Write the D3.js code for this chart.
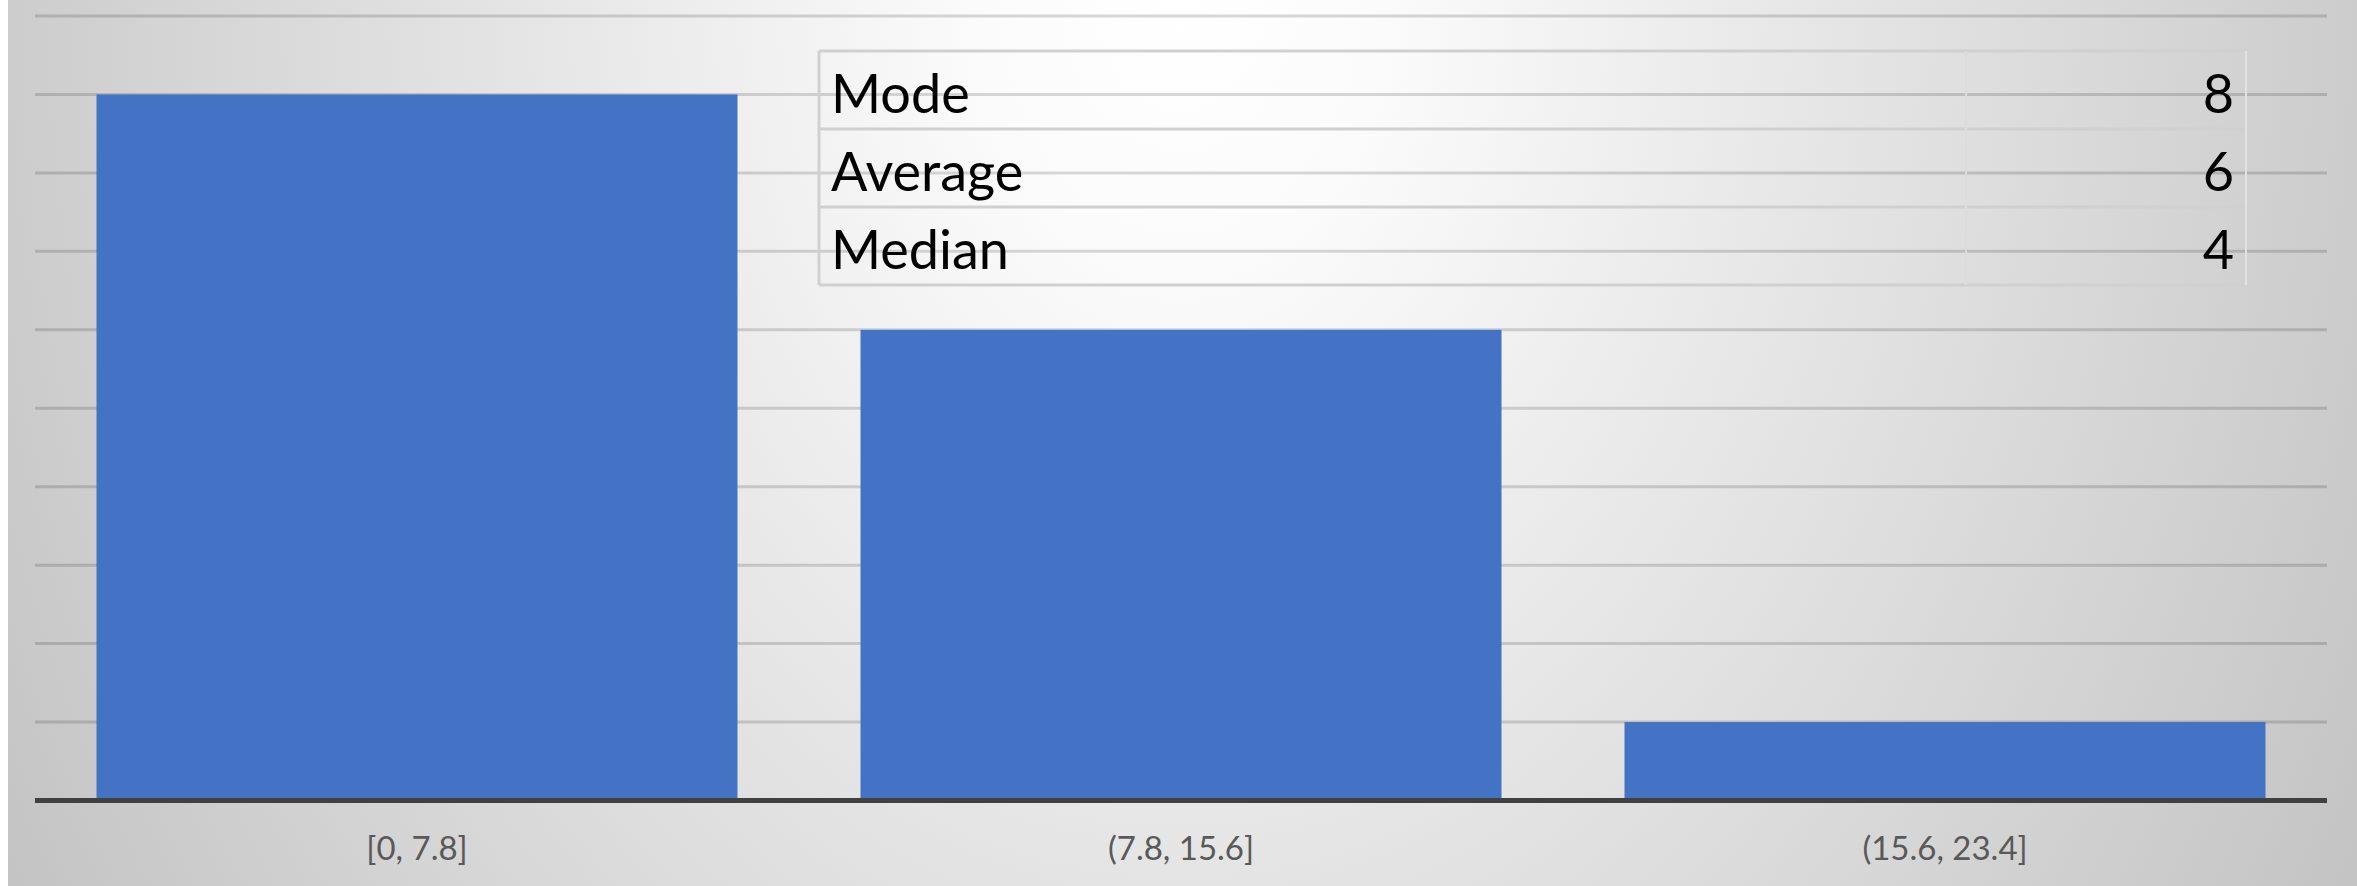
<!DOCTYPE html>
<html>
<head>
<meta charset="utf-8">
<script src="https://cdn.jsdelivr.net/npm/d3@7"></script>
<style>
  html, body { margin: 0; padding: 0; background: #ffffff; overflow: hidden; }
  svg { display: block; }
</style>
</head>
<body>
<svg id="chart" width="2357" height="886"></svg>
<script>
// ---- data ----
const categories = ["[0, 7.8]", "(7.8, 15.6]", "(15.6, 23.4]"];
const counts = [9, 6, 1];
const yMax = 10;
const statLabels = ["Mode", "Average", "Median"];
const statValues = [8, 6, 4];

// ---- layout ----
const W = 2357, H = 886;
const plot = { left: 35, right: 2327, top: 16, bottom: 800.5 };
const font = "Lato, 'Liberation Sans', sans-serif";

const svg = d3.select("#chart");
const defs = svg.append("defs");
const grad = defs.append("radialGradient")
  .attr("id", "bg")
  .attr("gradientUnits", "userSpaceOnUse")
  .attr("cx", 1180).attr("cy", 0).attr("r", 1350)
  .attr("gradientTransform", "translate(1180,0) scale(1,1.3) translate(-1180,0)");
grad.append("stop").attr("offset", 0).attr("stop-color", "#ffffff");
grad.append("stop").attr("offset", 0.15).attr("stop-color", "#fbfbfb");
grad.append("stop").attr("offset", 1).attr("stop-color", "#c4c4c4");

svg.append("rect").attr("x", 8).attr("y", 0).attr("width", W - 8).attr("height", H)
  .attr("fill", "url(#bg)");

const x = d3.scaleBand().domain(categories).range([plot.left, plot.right])
  .paddingInner(0.161).paddingOuter(0.0805);
const y = d3.scaleLinear().domain([0, yMax]).range([plot.bottom, plot.top]);

// gridlines
const gridTicks = y.ticks(10).filter(t => t > 0);
svg.append("g").selectAll("line").data(gridTicks).join("line")
  .attr("x1", plot.left).attr("x2", plot.right)
  .attr("y1", d => y(d)).attr("y2", d => y(d))
  .attr("stroke", "#000").attr("stroke-opacity", 0.15).attr("stroke-width", 3);

// bars
svg.append("g").selectAll("rect").data(categories).join("rect")
  .attr("x", d => x(d))
  .attr("width", x.bandwidth())
  .attr("y", (d, i) => y(counts[i]))
  .attr("height", (d, i) => y(0) - y(counts[i]))
  .attr("fill", "#4472C4");

// x axis
const xAxis = svg.append("g").attr("transform", `translate(0,${plot.bottom})`)
  .call(d3.axisBottom(x).tickSize(0).tickPadding(0));
xAxis.select(".domain").attr("d", `M${plot.left},0H${plot.right}`)
  .attr("stroke", "#404040").attr("stroke-width", 5);
xAxis.selectAll(".tick text")
  .attr("dy", null).attr("y", 59)
  .attr("fill", "#595959")
  .style("font-family", font).style("font-size", "33px");

// stats table
const table = { left: 819, right: 2246, divider: 1966, top: 51, bottom: 285 };
const rowY = d3.scaleBand().domain(statLabels).range([table.top, table.bottom]);
const tg = svg.append("g");
const rowEdges = statLabels.map(d => rowY(d)).concat([table.bottom]);
tg.selectAll("line.h").data(rowEdges).join("line").attr("class", "h")
  .attr("x1", table.left).attr("x2", table.right)
  .attr("y1", d => d).attr("y2", d => d)
  .attr("stroke", "#d0d0d0").attr("stroke-width", 3);
tg.append("line").attr("x1", table.left).attr("x2", table.left)
  .attr("y1", table.top).attr("y2", table.bottom)
  .attr("stroke", "#d0d0d0").attr("stroke-width", 3);
tg.append("line").attr("x1", table.divider).attr("x2", table.divider)
  .attr("y1", table.top).attr("y2", table.bottom)
  .attr("stroke", "#dcdcdc").attr("stroke-width", 2);
tg.append("line").attr("x1", table.right).attr("x2", table.right)
  .attr("y1", table.top).attr("y2", table.bottom)
  .attr("stroke", "#e2e2e2").attr("stroke-width", 2);

tg.selectAll("text.lab").data(statLabels).join("text").attr("class", "lab")
  .attr("x", table.left + 12)
  .attr("y", d => rowY(d) + 62)
  .attr("fill", "#000")
  .style("font-family", font).style("font-size", "54px")
  .text(d => d);
tg.selectAll("text.val").data(statValues).join("text").attr("class", "val")
  .attr("x", table.right - 12)
  .attr("y", (d, i) => rowY(statLabels[i]) + 62)
  .attr("text-anchor", "end")
  .attr("fill", "#000")
  .style("font-family", font).style("font-size", "54px")
  .text(d => d);
</script>
</body>
</html>
